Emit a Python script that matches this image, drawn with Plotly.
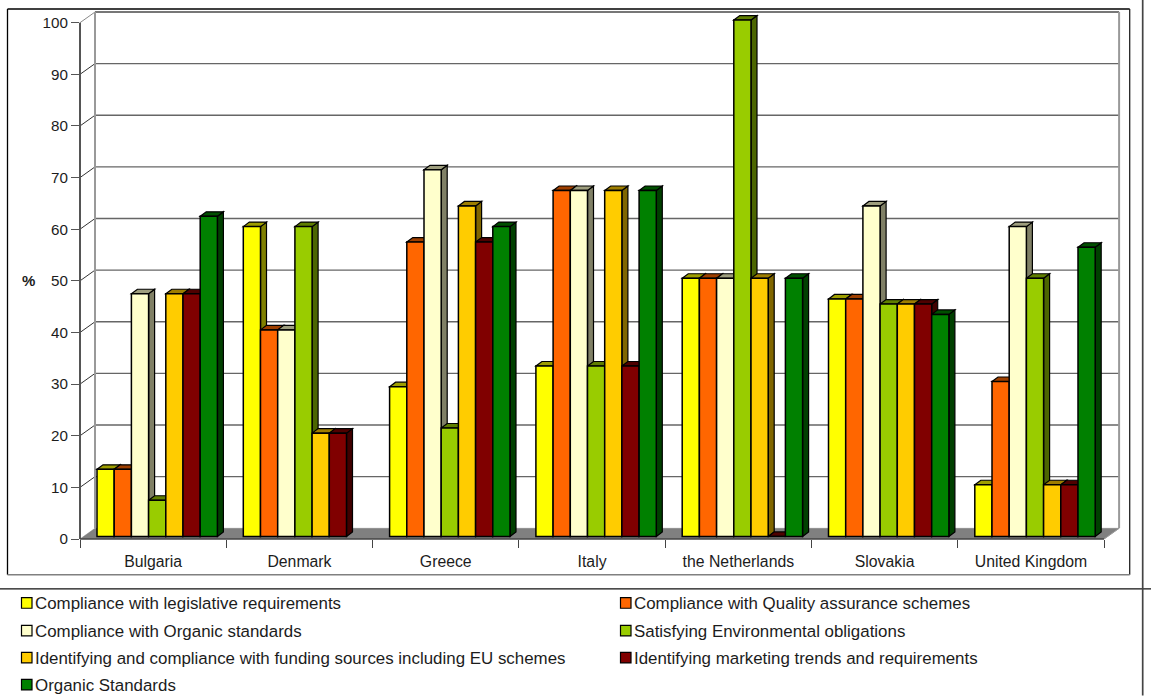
import plotly.graph_objects as go

countries = ["Bulgaria", "Denmark", "Greece", "Italy", "the Netherlands", "Slovakia", "United Kingdom"]
legislative = [13, 60, 29, 33, 50, 46, 10]
quality = [13, 40, 57, 67, 50, 46, 30]
organic_compliance = [47, 40, 71, 67, 50, 64, 60]
environmental = [7, 60, 21, 33, 100, 45, 50]
funding = [47, 20, 64, 67, 50, 45, 10]
marketing = [47, 20, 57, 33, 0, 45, 10]
organic_standards = [62, None, 60, 67, 50, 43, 56]

series_names = [
    "Compliance with legislative requirements",
    "Compliance with Quality assurance schemes",
    "Compliance with Organic standards",
    "Satisfying Environmental obligations",
    "Identifying and compliance with funding sources including EU schemes",
    "Identifying marketing trends and requirements",
    "Organic Standards",
]
series_values = [legislative, quality, organic_compliance, environmental, funding, marketing, organic_standards]
series_colors = ["#FFFF00", "#FF6600", "#FFFFCC", "#99CC00", "#FFCC00", "#800000", "#008000"]
y_ticks = [0, 10, 20, 30, 40, 50, 60, 70, 80, 90, 100]

# Plot area in page pixels, and the size of one axis unit
LEFT, RIGHT, TOP, BOTTOM = 80.0, 1126.0, 4.0, 539.3
UNIT_X = 146.3   # pixels per category
UNIT_Y = 5.166   # pixels per percentage point

# Oblique projection used for the pseudo-3D look, in axis units
WALL_DX, WALL_DY = 15 / UNIT_X, 10.7 / UNIT_Y
BAR_DX, BAR_DY = 6 / UNIT_X, 4.5 / UNIT_Y
BAR_WIDTH = 17.2 / UNIT_X
BAR_START = 17.0 / UNIT_X
BAR_BASE = 2.6 / UNIT_Y

SIDE_SHADE = 0.5
TOP_SHADE = 0.62
n_cat = len(countries)


def shade(color, factor):
    r, g, b = (int(color[k:k + 2], 16) for k in (1, 3, 5))
    return f"rgb({r * factor:.0f},{g * factor:.0f},{b * factor:.0f})"


def page_x(px):
    return (px - LEFT) / (RIGHT - LEFT)


def page_y(py):
    return 1 - (py - TOP) / (BOTTOM - TOP)


def polygon(points, fill, line_color="#000000", line_width=1.2, layer="below"):
    path = "M " + " L ".join(f"{x:.5f} {y:.4f}" for x, y in points) + " Z"
    return dict(type="path", xref="x", yref="y", path=path, fillcolor=fill, layer=layer,
                line=dict(color=line_color, width=line_width))


def data_line(x0, y0, x1, y1, color, width, layer="below"):
    return dict(type="line", xref="x", yref="y", x0=x0, y0=y0, x1=x1, y1=y1, layer=layer,
                line=dict(color=color, width=width))


def frame_line(x0, y0, x1, y1, color, width):
    return dict(type="line", xref="paper", yref="paper", layer="above",
                x0=page_x(x0), y0=page_y(y0), x1=page_x(x1), y1=page_y(y1),
                line=dict(color=color, width=width))


shapes = []

# Floor and walls
shapes.append(polygon([(0, 0), (n_cat, 0), (n_cat + WALL_DX, WALL_DY), (WALL_DX, WALL_DY)],
                      "#808080", "#808080", 0.5))
for tick in y_ticks[1:]:
    top_edge = tick == y_ticks[-1]
    shapes.append(data_line(WALL_DX, tick + WALL_DY, n_cat + WALL_DX, tick + WALL_DY,
                            "#777777" if top_edge else "#666666", 2 if top_edge else 1.4))
    shapes.append(data_line(0, tick, WALL_DX, tick + WALL_DY, "#888888" if top_edge else "#333333", 1))
shapes.append(data_line(WALL_DX, WALL_DY, WALL_DX, y_ticks[-1] + WALL_DY, "#999999", 2))
shapes.append(data_line(n_cat + WALL_DX, WALL_DY, n_cat + WALL_DX, y_ticks[-1] + WALL_DY, "#999999", 2))
shapes.append(data_line(n_cat, 0, n_cat + WALL_DX, WALL_DY, "#999999", 1))

# Side and top faces of the columns, painted left to right so nearer faces overlap
for i in range(n_cat):
    for j, values in enumerate(series_values):
        v = values[i]
        if v is None:
            continue
        color = series_colors[j]
        x0 = i + BAR_START + j * BAR_WIDTH
        x1 = x0 + BAR_WIDTH
        y0, y1 = BAR_BASE, BAR_BASE + v
        shapes.append(polygon([(x1, y0), (x1 + BAR_DX, y0 + BAR_DY), (x1 + BAR_DX, y1 + BAR_DY), (x1, y1)],
                              shade(color, SIDE_SHADE)))
        shapes.append(polygon([(x0, y1), (x0 + BAR_DX, y1 + BAR_DY), (x1 + BAR_DX, y1 + BAR_DY), (x1, y1)],
                              shade(color, TOP_SHADE)))

# Front axis lines
shapes.append(dict(type="line", xref="paper", yref="y", layer="above", x0=0, x1=0, y0=0, y1=y_ticks[-1],
                   line=dict(color="#555555", width=2)))
shapes.append(dict(type="line", xref="x", yref="paper", layer="above", x0=0, x1=n_cat, y0=0, y1=0,
                   line=dict(color="#444444", width=1.6)))

# Chart frame and page rules
shapes += [
    frame_line(7.5, 9, 1129.7, 9, "#000000", 1.3),
    frame_line(7.5, 9, 7.5, 575, "#000000", 1.3),
    frame_line(1129.7, 9, 1129.7, 575, "#222222", 1.3),
    frame_line(7.5, 575, 1129.7, 575, "#808080", 1.6),
    frame_line(0, 589.3, 1151, 589.3, "#111111", 1.2),
    frame_line(1142.7, 0, 1142.7, 696, "#444444", 1.7),
]

# Legend, laid out in two columns
TEXT_COLOR = "#1c1c1c"
FONT = "Liberation Sans, Arial, sans-serif"
legend_rows = [603.8, 631.5, 658.5, 685.5]
legend_cols = [21.5, 620.5]
annotations = []
for k, (name, color) in enumerate(zip(series_names, series_colors)):
    sx = legend_cols[k % 2]
    sy = legend_rows[k // 2]
    shapes.append(dict(type="rect", xref="paper", yref="paper", layer="above",
                       x0=page_x(sx), x1=page_x(sx + 10.5), y0=page_y(sy - 5.8), y1=page_y(sy + 4.8),
                       fillcolor=color, line=dict(color="#000000", width=1.2)))
    annotations.append(dict(xref="paper", yref="paper", x=page_x(sx + 11.5), y=page_y(sy),
                            xanchor="left", yanchor="middle", showarrow=False, text=name,
                            font=dict(family=FONT, size=16.9, color=TEXT_COLOR)))

annotations.append(dict(xref="paper", yref="paper", x=page_x(28), y=page_y(281), showarrow=False,
                        xanchor="center", yanchor="middle", text="<b>%</b>",
                        font=dict(family=FONT, size=15, color=TEXT_COLOR)))

# Front faces of the columns
fig = go.Figure()
for j, (name, values, color) in enumerate(zip(series_names, series_values, series_colors)):
    centres = [i + BAR_START + (j + 0.5) * BAR_WIDTH for i in range(n_cat)]
    fig.add_trace(go.Bar(name=name, x=centres, y=values, base=BAR_BASE, width=BAR_WIDTH,
                         marker=dict(color=color, line=dict(color="#000000", width=1.5))))

fig.update_layout(
    width=1156, height=696, autosize=False, showlegend=False, barmode="overlay",
    paper_bgcolor="#FFFFFF", plot_bgcolor="#FFFFFF",
    margin=dict(l=LEFT, r=1156 - RIGHT, t=TOP, b=696 - BOTTOM, pad=0),
    shapes=shapes, annotations=annotations,
    font=dict(family=FONT, color=TEXT_COLOR),
    xaxis=dict(
        range=[0, (RIGHT - LEFT) / UNIT_X], showgrid=False, zeroline=False, showline=False,
        tickmode="array", tickvals=[i + 0.5 for i in range(n_cat)], ticktext=countries,
        ticks="outside", ticklen=8, tickwidth=0, tickcolor="rgba(0,0,0,0)",
        tickfont=dict(family=FONT, size=15.8, color=TEXT_COLOR),
        minor=dict(tickmode="array", tickvals=list(range(n_cat + 1)), ticks="outside",
                   ticklen=8, tickwidth=1.3, tickcolor="#444444", showgrid=False),
    ),
    yaxis=dict(
        range=[0, (BOTTOM - TOP) / UNIT_Y], showgrid=False, zeroline=False, showline=False,
        tickmode="array", tickvals=y_ticks, ticks="outside", ticklen=8, tickwidth=1.3,
        tickcolor="#555555", tickfont=dict(family=FONT, size=15.2, color=TEXT_COLOR),
    ),
)

fig.write_html("out.html")
